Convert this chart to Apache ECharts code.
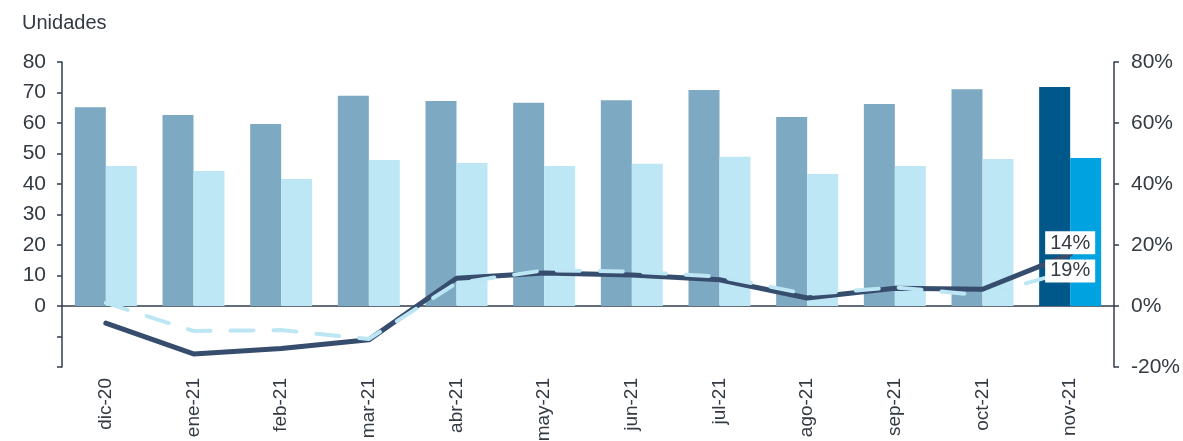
<!DOCTYPE html>
<html>
<head>
<meta charset="utf-8">
<script src="https://cdn.jsdelivr.net/npm/echarts@6/dist/echarts.min.js"></script>
<style>
html,body{margin:0;padding:0;background:#fff;}
#chart{width:1183px;height:441px;}
</style>
</head>
<body>
<div id="chart"></div>
<script>
var categories = ['dic-20','ene-21','feb-21','mar-21','abr-21','may-21','jun-21','jul-21','ago-21','sep-21','oct-21','nov-21'];
var barsDark = [65.2, 62.6, 59.7, 68.9, 67.2, 66.6, 67.5, 70.8, 62.0, 66.2, 71.1, 71.8];
var barsLight = [45.9, 44.3, 41.6, 47.9, 46.9, 45.9, 46.6, 48.9, 43.3, 45.9, 48.2, 48.5];
var lineSolid = [-5.6, -15.7, -13.9, -11.1, 9.1, 10.8, 10.2, 8.6, 2.6, 5.8, 5.5, 17.0];
var lineDashed = [1.0, -8.2, -7.9, -10.8, 7.5, 11.7, 11.3, 9.6, 3.9, 6.1, 3.5, 11.5];
var leftTicks = [-20, 80, 10];
var rightTicks = [-20, 80, 20];
var lastLabels = ['14%', '19%'];

var axisColor = '#2f3e4e';
var textColor = '#333a42';
var fontFam = '"Liberation Sans", Arial, sans-serif';

function barData(vals, normal, highlight) {
  return vals.map(function (v, i) {
    return { value: v, itemStyle: { color: i === vals.length - 1 ? highlight : normal } };
  });
}
var labelBase = {
  show: true, backgroundColor: '#fff', color: textColor, fontSize: 20, fontFamily: fontFam,
  padding: [2, 5, 1, 5]
};
function lineData(vals, text, extra) {
  return vals.map(function (v, i) {
    if (i !== vals.length - 1) return v;
    return { value: v, label: Object.assign({}, labelBase, extra, { formatter: text }) };
  });
}

var chart = echarts.init(document.getElementById('chart'), null, { renderer: 'canvas' });
chart.setOption({
  animation: false,
  grid: { left: 62, right: 69, top: 62, bottom: 74, containLabel: false, outerBoundsMode: 'none' },
  title: {
    text: 'Unidades', left: 17, top: 8,
    textStyle: { fontSize: 20, fontWeight: 'normal', color: textColor, fontFamily: fontFam }
  },
  xAxis: {
    type: 'category', data: categories,
    axisLine: { onZero: true, lineStyle: { color: axisColor, width: 1.5 } },
    axisTick: { show: false },
    axisLabel: {
      interval: 0, rotate: 90, color: textColor, fontSize: 19, fontFamily: fontFam,
      margin: 11
    },
    position: 'bottom'
  },
  yAxis: [
    {
      type: 'value', min: leftTicks[0], max: leftTicks[1], interval: leftTicks[2],
      position: 'left',
      axisLine: { show: true, onZero: false, lineStyle: { color: axisColor, width: 1.5 } },
      axisTick: { show: true, length: 5, lineStyle: { color: axisColor, width: 1.5 } },
      splitLine: { show: false },
      axisLabel: {
        color: textColor, fontSize: 21, fontFamily: fontFam, margin: 16,
        formatter: function (v) { return v < 0 ? '' : String(v); }
      }
    },
    {
      type: 'value', min: rightTicks[0], max: rightTicks[1], interval: rightTicks[2],
      position: 'right',
      axisLine: { show: true, onZero: false, lineStyle: { color: axisColor, width: 1.5 } },
      axisTick: { show: true, length: 5, lineStyle: { color: axisColor, width: 1.5 } },
      splitLine: { show: false },
      axisLabel: { color: textColor, fontSize: 21, fontFamily: fontFam, margin: 17, formatter: '{value}%' }
    }
  ],
  series: [
    {
      type: 'bar', data: barData(barsDark, '#7ea9c2', '#00578a'),
      barWidth: 31, barGap: '0%', yAxisIndex: 0, z: 1
    },
    {
      type: 'bar', data: barData(barsLight, '#bee7f5', '#00a2df'),
      barWidth: 31, barGap: '0%', yAxisIndex: 0, z: 1
    },
    {
      type: 'line', yAxisIndex: 1, symbol: 'circle', symbolSize: 0, showSymbol: true, z: 3,
      data: lineData(lineSolid, lastLabels[0], { position: 'top', distance: 0 }),
      itemStyle: { color: '#374d6e' },
      label: { show: false },
      lineStyle: { color: '#374d6e', width: 5, cap: 'round', join: 'round' }
    },
    {
      type: 'line', yAxisIndex: 1, symbol: 'circle', symbolSize: 0, showSymbol: true, z: 4,
      data: lineData(lineDashed, lastLabels[1], { position: 'inside' }),
      itemStyle: { color: '#bde6f5' },
      label: { show: false },
      lineStyle: { color: '#bde6f5', width: 4, type: [23, 20], cap: 'round' }
    }
  ]
});
</script>
</body>
</html>
